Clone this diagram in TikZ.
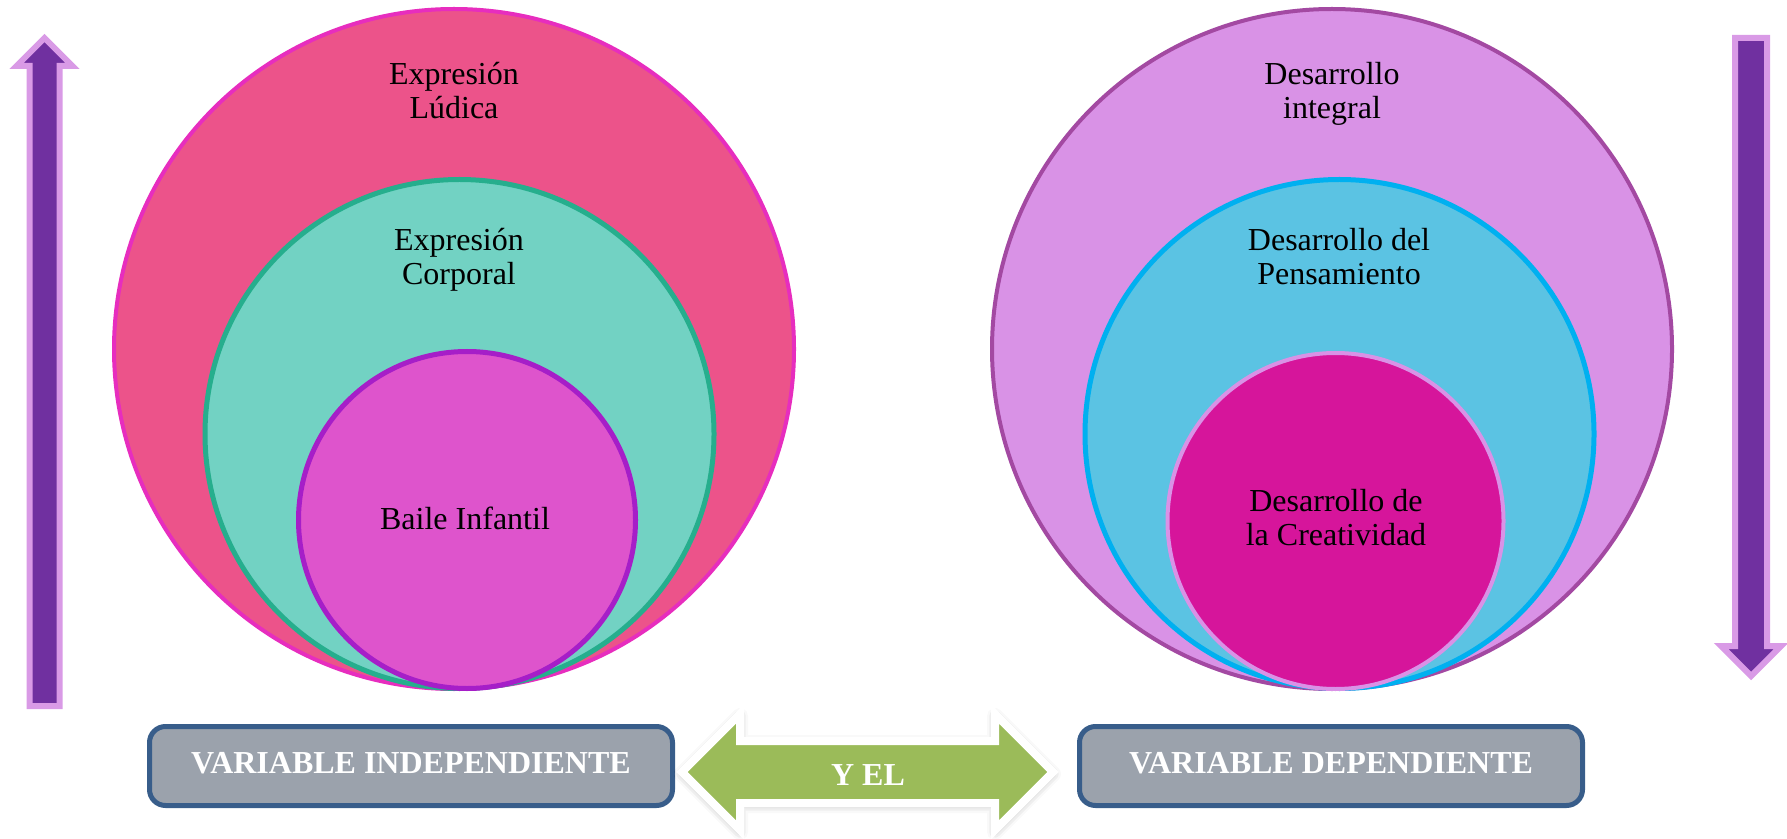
\documentclass[tikz,border=0pt]{standalone}
\usepackage{fontspec}
\setmainfont{Liberation Serif}
\usetikzlibrary{shadows.blur}
\definecolor{lbigfill}{HTML}{EC538A}
\definecolor{lbigdraw}{HTML}{E72DBE}
\definecolor{tealfill}{HTML}{72D2C3}
\definecolor{tealdraw}{HTML}{26AE8D}
\definecolor{lmagfill}{HTML}{DE54CC}
\definecolor{lmagdraw}{HTML}{A61EC8}
\definecolor{rbigfill}{HTML}{D992E6}
\definecolor{rbigdraw}{HTML}{A349A2}
\definecolor{bluefill}{HTML}{5BC3E3}
\definecolor{bluedraw}{HTML}{00B0F0}
\definecolor{rmagfill}{HTML}{D6159B}
\definecolor{arrowdark}{HTML}{7030A0}
\definecolor{arrowlight}{HTML}{D99AE6}
\definecolor{boxgray}{HTML}{9BA2AC}
\definecolor{boxblue}{HTML}{385D8A}
\definecolor{ygreen}{HTML}{9BBB59}
\begin{document}
\begin{tikzpicture}[x=0.5pt,y=-0.5pt,
  ring/.style={circle, inner sep=0pt, outer sep=0pt},
  lbl/.style={anchor=base, inner sep=0pt, text=black, font=\fontsize{16}{17}\selectfont},
  varbox/.style={rounded corners=8pt, draw=boxblue, fill=boxgray, line width=2.5pt,
    text=white, font=\fontsize{16}{17}\selectfont\bfseries, inner sep=0pt,
    text depth=3.5pt, minimum height=39.5pt},
  vbar/.style={fill=arrowdark, draw=arrowlight, line width=3pt, line join=miter}]
\useasboundingbox (0,0) rectangle (1787,839);

% left circles
\node[ring, minimum size=340pt, fill=lbigfill, draw=lbigdraw, line width=2pt] (lbig) at (454,349) {};
\node[ring, minimum size=254.5pt, fill=tealfill, draw=tealdraw, line width=2.5pt] (lmid) at (459.5,434) {};
\node[ring, minimum size=168.5pt, fill=lmagfill, draw=lmagdraw, line width=2.5pt] (lsmall) at (467,520) {};
\node[lbl] (t1a) at (454,85) {Expresión};
\node[lbl] (t1b) at (454,119) {Lúdica};
\node[lbl] (t2a) at (459,251) {Expresión};
\node[lbl] (t2b) at (459,285) {Corporal};
\node[lbl] (t3) at (465,529) {Baile Infantil};

% right circles
\node[ring, minimum size=340pt, fill=rbigfill, draw=rbigdraw, line width=2pt] (rbig) at (1332,349) {};
\node[ring, minimum size=254.5pt, fill=bluefill, draw=bluedraw, line width=2.5pt] (rmid) at (1339.5,434) {};
\node[ring, minimum size=168pt, fill=rmagfill, draw=rbigfill, line width=2pt] (rsmall) at (1335.5,521) {};
\node[lbl] (t4a) at (1332,85) {Desarrollo};
\node[lbl] (t4b) at (1332,119) {integral};
\node[lbl] (t5a) at (1339,251) {Desarrollo del};
\node[lbl] (t5b) at (1339,285) {Pensamiento};
\node[lbl] (t6a) at (1336,511) {Desarrollo de};
\node[lbl] (t6b) at (1336,545) {la Creatividad};

% vertical arrows
\draw[vbar] (29.5,706) -- (29.5,66) -- (16.5,66) -- (44.5,38) -- (72.5,66)
  -- (59.5,66) -- (59.5,706) -- cycle;
\draw[vbar] (1735,38) -- (1767,38) -- (1767,646) -- (1781,646) -- (1751,676)
  -- (1721,646) -- (1735,646) -- cycle;

% boxes
\node[varbox, minimum width=261.5pt] (vi) at (411,766) {VARIABLE INDEPENDIENTE};
\node[varbox, minimum width=251.5pt] (vd) at (1331,766) {VARIABLE DEPENDIENTE};

% double arrow
\draw[fill=ygreen, draw=white, line width=4pt, line join=miter,
  blur shadow={shadow xshift=0pt, shadow yshift=-1pt, shadow blur radius=4pt, shadow opacity=35}]
  (682,772) -- (740,714) -- (740,741) -- (995,741) -- (995,714) -- (1053,772)
  -- (995,830) -- (995,803) -- (740,803) -- (740,830) -- cycle;
\node[anchor=base, inner sep=0pt, text=white, font=\fontsize{16}{17}\selectfont\bfseries] (yel) at (868,785) {Y EL};
\end{tikzpicture}
\end{document}
